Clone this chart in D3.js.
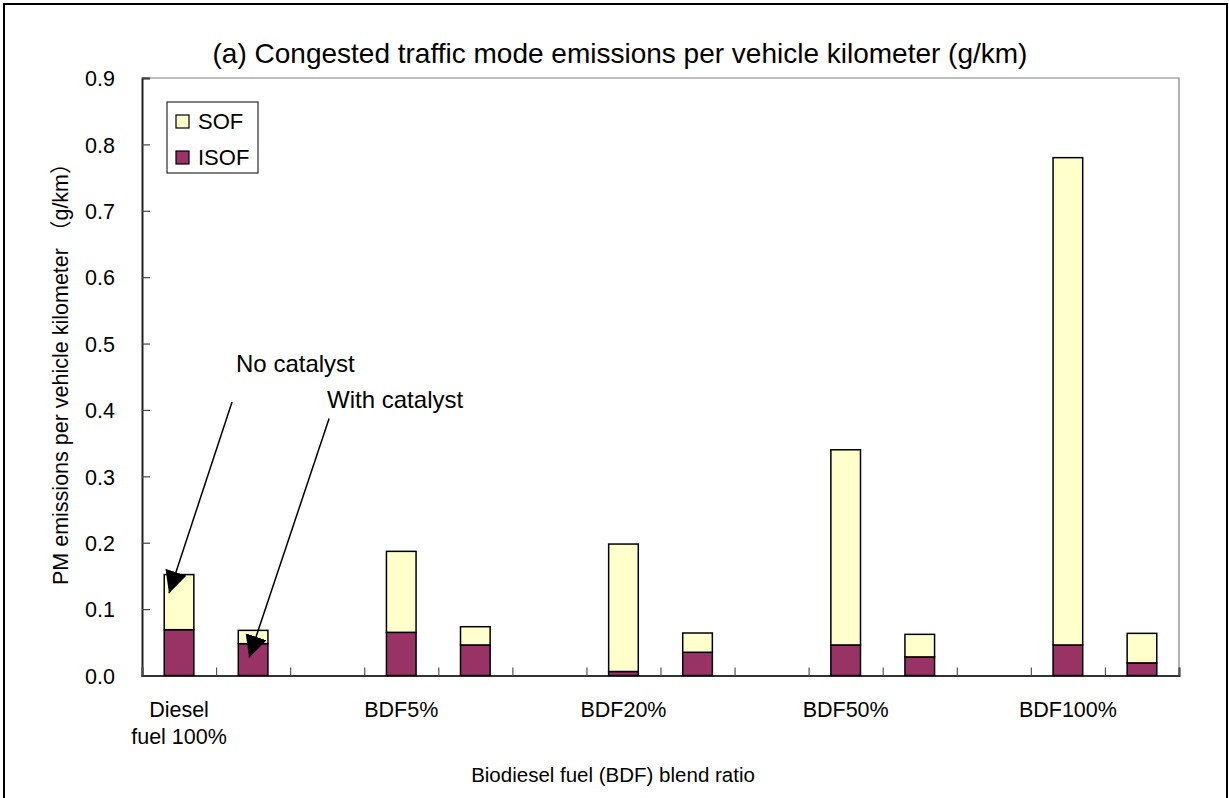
<!DOCTYPE html>
<html>
<head>
<meta charset="utf-8">
<script src="https://cdn.jsdelivr.net/npm/d3@7"></script>
<style>
  body { margin: 0; background: #fff; }
  text { font-family: "Liberation Sans", Arial, "Noto Sans CJK JP", sans-serif; fill: #000; }
</style>
</head>
<body>
<div class="chart"></div>
<script>
// blend ratios, one group of two bars each (no catalyst / with catalyst)
const categories = ["Diesel fuel 100%", "BDF5%", "BDF20%", "BDF50%", "BDF100%"];
const categoryLines = [["Diesel", "fuel 100%"], ["BDF5%"], ["BDF20%"], ["BDF50%"], ["BDF100%"]];
const modes = ["No catalyst", "With catalyst"];
const isofNoCat = [0.069, 0.065, 0.006, 0.046, 0.046];
const sofNoCat = [0.083, 0.122, 0.192, 0.294, 0.734];
const isofCat = [0.048, 0.046, 0.035, 0.028, 0.019];
const sofCat = [0.020, 0.0275, 0.029, 0.034, 0.0445];
const yTicks = [0, 0.1, 0.2, 0.3, 0.4, 0.5, 0.6, 0.7, 0.8, 0.9];
const seriesNames = ["SOF", "ISOF"];
const colors = {SOF: "#ffffcc", ISOF: "#993366"};

function drawChart() {
    let margin = {top: 78, right: 50, bottom: 122.5, left: 142};
    let svg = d3.select('.chart')
        .append('svg')
        .attr('width', 1229)
        .attr('height', 798);
    let width = +svg.attr('width') - margin.left - margin.right;
    let height = +svg.attr('height') - margin.top - margin.bottom;

    // outer chart frame
    svg.append('rect')
        .attr('x', 4).attr('y', 4)
        .attr('width', 1223).attr('height', 820)
        .attr('fill', 'none')
        .attr('stroke', '#000')
        .attr('stroke-width', 2);

    svg.append('text')
        .attr('x', 620)
        .attr('y', 63)
        .style('text-anchor', 'middle')
        .style('font-size', '28px')
        .text('(a) Congested traffic mode emissions per vehicle kilometer (g/km)');

    // 5 groups x 3 slots, minus the trailing gap
    let nSlots = categories.length * 3 - 1;
    let slots = d3.range(nSlots);
    let x = d3.scaleBand().domain(slots).range([0, width]).paddingInner(0.6).paddingOuter(0.3);
    let xEdge = d3.scaleLinear().domain([0, nSlots]).range([0, width]);
    let y = d3.scaleLinear().domain([0, 0.9]).range([height, 0]);

    let rows = [];
    categories.forEach((c, i) => {
        rows.push({cat: c, mode: modes[0], slot: i * 3, ISOF: isofNoCat[i], SOF: sofNoCat[i]});
        rows.push({cat: c, mode: modes[1], slot: i * 3 + 1, ISOF: isofCat[i], SOF: sofCat[i]});
    });

    let g = svg.append('g')
        .attr('transform', 'translate(' + margin.left + ',' + margin.top + ')');

    // plot area frame (top / right)
    g.append('path')
        .attr('d', 'M0,0H' + width + 'V' + height)
        .attr('fill', 'none')
        .attr('stroke', '#808080')
        .attr('stroke-width', 1.2);

    let yAxis = g.append('g')
        .attr('class', 'axis axis--y')
        .call(d3.axisLeft(y).tickValues(yTicks).tickFormat(d3.format('.1f')).tickSize(-8).tickPadding(27));
    yAxis.select('.domain').attr('stroke', '#222').attr('stroke-width', 2);
    yAxis.selectAll('.tick line').attr('stroke', '#444').attr('stroke-width', 1.2);
    yAxis.selectAll('.tick text').style('font-size', '21.5px').attr('dy', '0.36em');

    let xAxis = g.append('g')
        .attr('class', 'axis axis--x')
        .attr('transform', 'translate(0,' + height + ')')
        .call(d3.axisBottom(xEdge).ticks(nSlots).tickSize(-8).tickFormat(''));
    xAxis.select('.domain').attr('stroke', '#333').attr('stroke-width', 2);
    xAxis.selectAll('.tick line').attr('stroke', '#555').attr('stroke-width', 1.2);

    // stacked bars
    let stack = d3.stack().keys(["ISOF", "SOF"]);
    let layers = stack(rows);
    g.selectAll('.layer')
        .data(layers)
        .enter().append('g')
        .attr('class', 'layer')
        .attr('fill', d => colors[d.key])
        .selectAll('rect')
        .data(d => d)
        .enter().append('rect')
        .attr('x', d => x(d.data.slot))
        .attr('y', d => y(d[1]))
        .attr('width', x.bandwidth())
        .attr('height', d => y(d[0]) - y(d[1]))
        .attr('stroke', '#000')
        .attr('stroke-width', 1.5);

    // category labels under the first bar of each group
    let labels = g.selectAll('.catLabel')
        .data(categories)
        .enter().append('text')
        .attr('class', 'catLabel')
        .attr('x', (d, i) => x(i * 3) + x.bandwidth() / 2)
        .attr('y', height + 41)
        .style('text-anchor', 'middle')
        .style('font-size', '21.5px');
    labels.selectAll('tspan')
        .data((d, i) => categoryLines[i])
        .enter().append('tspan')
        .attr('x', function () { return d3.select(this.parentNode).attr('x'); })
        .attr('dy', (d, i) => i === 0 ? 0 : 27.5)
        .text(d => d);

    g.append('text')
        .attr('x', 613 - margin.left)
        .attr('y', height + 106)
        .style('text-anchor', 'middle')
        .style('font-size', '20.5px')
        .text('Biodiesel fuel (BDF) blend ratio');

    svg.append('text')
        .attr('transform', 'translate(68,' + (margin.top + height / 2 - 8) + ') rotate(-90)')
        .style('text-anchor', 'middle')
        .style('font-size', '21.5px')
        .text('PM emissions per vehicle kilometer （g/km）');

    // legend
    let legend = g.append('g').attr('transform', 'translate(25,24)');
    legend.append('rect')
        .attr('width', 91).attr('height', 71)
        .attr('fill', '#fff').attr('stroke', '#000').attr('stroke-width', 1);
    seriesNames.forEach((name, i) => {
        legend.append('rect')
            .attr('x', 9).attr('y', 13 + i * 36)
            .attr('width', 13).attr('height', 13)
            .attr('fill', colors[name]).attr('stroke', '#000').attr('stroke-width', 1.2);
        legend.append('text')
            .attr('x', 31).attr('y', 27 + i * 36)
            .style('font-size', '22px')
            .text(name);
    });

    // annotations: arrows from label to bars, in data coordinates (slot + offset, value)
    let notes = [
        {text: modes[0], slot: 0, tx: 57, ty: 0.457, sx: 53, sy: 0.412, ex: -10, ey: 0.124},
        {text: modes[1], slot: 1, tx: 74, ty: 0.403, sx: 76, sy: 0.387, ex: -4, ey: 0.027}
    ];
    svg.append('defs').append('marker')
        .attr('id', 'head')
        .attr('viewBox', '0 0 10 10')
        .attr('refX', 10).attr('refY', 5)
        .attr('markerWidth', 22).attr('markerHeight', 22)
        .attr('markerUnits', 'userSpaceOnUse')
        .attr('orient', 'auto')
        .append('path')
        .attr('d', 'M0,0L10,5L0,10Z')
        .attr('fill', '#000');
    let cx = s => x(s) + x.bandwidth() / 2;
    notes.forEach(n => {
        g.append('line')
            .attr('x1', cx(n.slot) + n.sx).attr('y1', y(n.sy))
            .attr('x2', cx(n.slot) + n.ex).attr('y2', y(n.ey))
            .attr('stroke', '#000').attr('stroke-width', 1.5)
            .attr('marker-end', 'url(#head)');
        g.append('text')
            .attr('x', cx(n.slot) + n.tx).attr('y', y(n.ty))
            .style('font-size', '24px')
            .text(n.text);
    });
}

drawChart();
</script>
</body>
</html>
